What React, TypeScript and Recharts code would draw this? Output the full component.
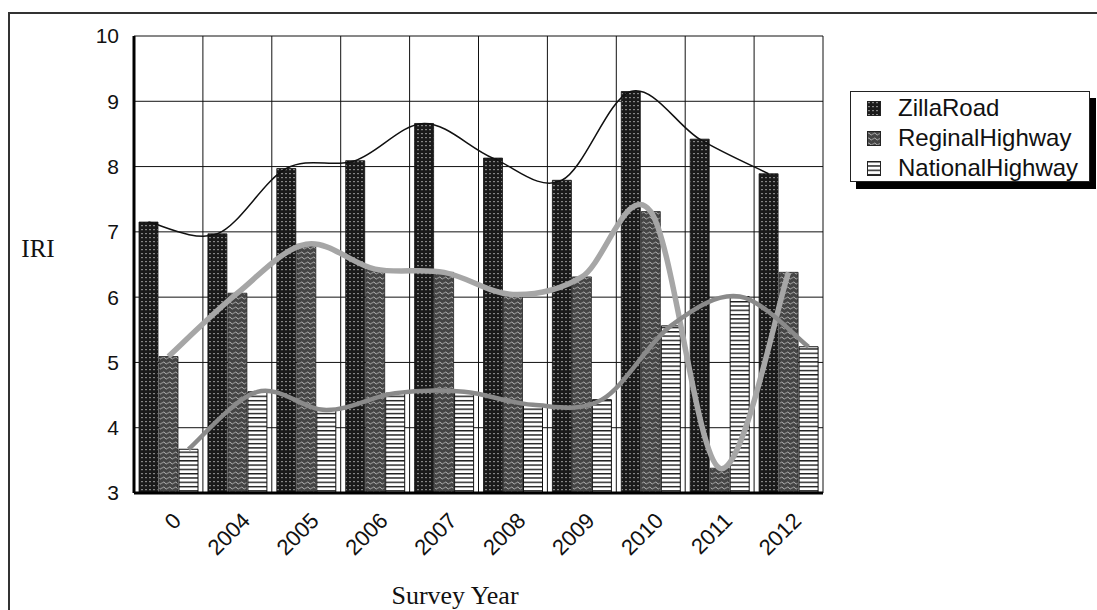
import React from 'react';
import { ComposedChart, Bar, Line, XAxis, YAxis, CartesianGrid, Legend } from 'recharts';

const years = ['0', '2004', '2005', '2006', '2007', '2008', '2009', '2010', '2011', '2012'];
const zillaRoad = [7.15, 6.97, 7.97, 8.09, 8.66, 8.13, 7.79, 9.15, 8.42, 7.89];
const reginalHighway = [5.09, 6.06, 6.81, 6.43, 6.38, 6.04, 6.31, 7.31, 3.38, 6.38];
const nationalHighway = [3.67, 4.55, 4.27, 4.53, 4.55, 4.35, 4.43, 5.56, 6.01, 5.24];
const yTicks = [3, 4, 5, 6, 7, 8, 9, 10];

const seriesNames = ['ZillaRoad', 'ReginalHighway', 'NationalHighway'];
const seriesPatterns = ['patZilla', 'patReginal', 'patNational'];

const data = years.map((year, i) => ({
  year,
  zilla: zillaRoad[i],
  reginal: reginalHighway[i],
  national: nationalHighway[i],
}));

const SANS = '"Liberation Sans", Arial, sans-serif';
const SERIF = '"Liberation Serif", "Times New Roman", serif';

// Excel-like smoothed line (Catmull-Rom through points)
const excelCurve = (context: any) => {
  let pts: number[][] = [];
  return {
    areaStart() {},
    areaEnd() {},
    lineStart() {
      pts = [];
    },
    point(x: number, y: number) {
      pts.push([+x, +y]);
    },
    lineEnd() {
      const n = pts.length;
      if (!n) return;
      context.moveTo(pts[0][0], pts[0][1]);
      const t = 1 / 6;
      for (let i = 0; i < n - 1; i++) {
        const p0 = pts[i - 1] || pts[i];
        const p1 = pts[i];
        const p2 = pts[i + 1];
        const p3 = pts[i + 2] || p2;
        context.bezierCurveTo(
          p1[0] + (p2[0] - p0[0]) * t,
          p1[1] + (p2[1] - p0[1]) * t,
          p2[0] - (p3[0] - p1[0]) * t,
          p2[1] - (p3[1] - p1[1]) * t,
          p2[0],
          p2[1]
        );
      }
    },
  };
};

const XTick = (props: any) => {
  const { x, y, payload } = props;
  const ax = x + 14;
  const ay = y + 29;
  return (
    <text
      x={ax}
      y={ay}
      textAnchor="end"
      transform={`rotate(-45 ${ax} ${ay})`}
      fontFamily={SANS}
      fontSize={22}
      fill="#111"
    >
      {payload.value}
    </text>
  );
};

const LegendBox = () => (
  <div
    style={{
      width: 240,
      height: 91,
      boxSizing: 'border-box',
      border: '1.5px solid #222',
      background: '#fff',
      boxShadow: '6px 7px 0 #000',
      paddingTop: 1,
    }}
  >
    {seriesNames.map((name, i) => (
      <div
        key={name}
        style={{ display: 'flex', alignItems: 'center', height: 30, fontFamily: SANS, fontSize: 24, color: '#111' }}
      >
        <svg width={14} height={15} style={{ marginLeft: 16, marginRight: 17, display: 'block' }}>
          <rect x={0.5} y={0.5} width={13} height={14} fill={`url(#${seriesPatterns[i]})`} stroke="#222" strokeWidth={1} />
        </svg>
        <span style={{ lineHeight: '30px' }}>{name}</span>
      </div>
    ))}
  </div>
);

export default function App() {
  return (
    <div style={{ position: 'absolute', left: 0, top: 0, width: 1097, height: 610, overflow: 'hidden', background: '#fff' }}>
      <div
        style={{
          position: 'absolute',
          left: 8,
          top: 12,
          width: 1200,
          height: 700,
          borderLeft: '2px solid #333',
          borderTop: '2px solid #333',
        }}
      />
      <div style={{ position: 'absolute', left: 0, top: 0 }}>
        <ComposedChart
          width={1097}
          height={610}
          data={data}
          margin={{ top: 36, right: 274, bottom: 57, left: 74 }}
          barSize={19}
          barGap={1}
        >
          <defs>
            <pattern id="patZilla" patternUnits="userSpaceOnUse" width={4} height={4}>
              <rect width={4} height={4} fill="#1a1a1a" />
              <rect x={1} y={1} width={2} height={1.2} fill="#858585" />
            </pattern>
            <pattern id="patReginal" patternUnits="userSpaceOnUse" width={6} height={5}>
              <rect width={6} height={5} fill="#454545" />
              <path d="M0,3.5 Q1.5,0.5 3,3 T6,2.5" stroke="#bdbdbd" strokeWidth={0.9} fill="none" />
            </pattern>
            <pattern id="patNational" patternUnits="userSpaceOnUse" width={4} height={4.3}>
              <rect width={4} height={4.3} fill="#ffffff" />
              <rect x={0} y={0} width={4} height={1.4} fill="#1a1a1a" />
            </pattern>
          </defs>
          <CartesianGrid
            stroke="#111"
            strokeWidth={1}
            verticalCoordinatesGenerator={({ offset }: any) =>
              years.map((_, i) => offset.left + (i * offset.width) / years.length).concat([offset.left + offset.width])
            }
          />
          <XAxis
            dataKey="year"
            axisLine={{ stroke: '#000', strokeWidth: 3 }}
            tickLine={false}
            tickSize={0}
            tickMargin={0}
            height={60}
            tick={<XTick />}
            interval={0}
          />
          <XAxis xAxisId="z" dataKey="year" hide padding={{ left: -20, right: 20 }} />
          <XAxis xAxisId="n" dataKey="year" hide padding={{ left: 20, right: -20 }} />
          <YAxis
            domain={[3, 10]}
            ticks={yTicks}
            width={60}
            axisLine={{ stroke: '#000', strokeWidth: 3 }}
            tickLine={false}
            tickSize={0}
            tickMargin={15}
            tick={{ fontFamily: SANS, fontSize: 21, fill: '#111' }}
            allowDataOverflow
          />
          <Legend
            layout="horizontal"
            verticalAlign="middle"
            align="center"
            wrapperStyle={{ position: 'absolute', left: 850, top: 91, width: 240, height: 91 }}
            content={() => <LegendBox />}
          />
          <Bar dataKey="zilla" name="ZillaRoad" fill="url(#patZilla)" stroke="#111" strokeWidth={0.8} isAnimationActive={false} />
          <Bar dataKey="reginal" name="ReginalHighway" fill="url(#patReginal)" stroke="#222" strokeWidth={0.8} isAnimationActive={false} />
          <Bar dataKey="national" name="NationalHighway" fill="url(#patNational)" stroke="#111" strokeWidth={1} isAnimationActive={false} />
          <Line
            xAxisId="z"
            dataKey="zilla"
            type={excelCurve as any}
            stroke="#111"
            strokeWidth={1.5}
            dot={false}
            activeDot={false}
            legendType="none"
            isAnimationActive={false}
          />
          <Line
            dataKey="reginal"
            type={excelCurve as any}
            stroke="#a6a6a6"
            strokeWidth={5.5}
            dot={false}
            activeDot={false}
            legendType="none"
            isAnimationActive={false}
          />
          <Line
            xAxisId="n"
            dataKey="national"
            type={excelCurve as any}
            stroke="#8a8a8a"
            strokeWidth={4.5}
            dot={false}
            activeDot={false}
            legendType="none"
            isAnimationActive={false}
          />
        </ComposedChart>
      </div>
      <div
        style={{
          position: 'absolute',
          left: 18,
          top: 234,
          width: 40,
          textAlign: 'center',
          fontFamily: SERIF,
          fontSize: 25,
          color: '#111',
          lineHeight: '30px',
        }}
      >
        IRI
      </div>
      <div
        style={{
          position: 'absolute',
          left: 355,
          top: 581,
          width: 200,
          textAlign: 'center',
          fontFamily: SERIF,
          fontSize: 26,
          color: '#111',
          lineHeight: '30px',
        }}
      >
        Survey Year
      </div>
    </div>
  );
}
